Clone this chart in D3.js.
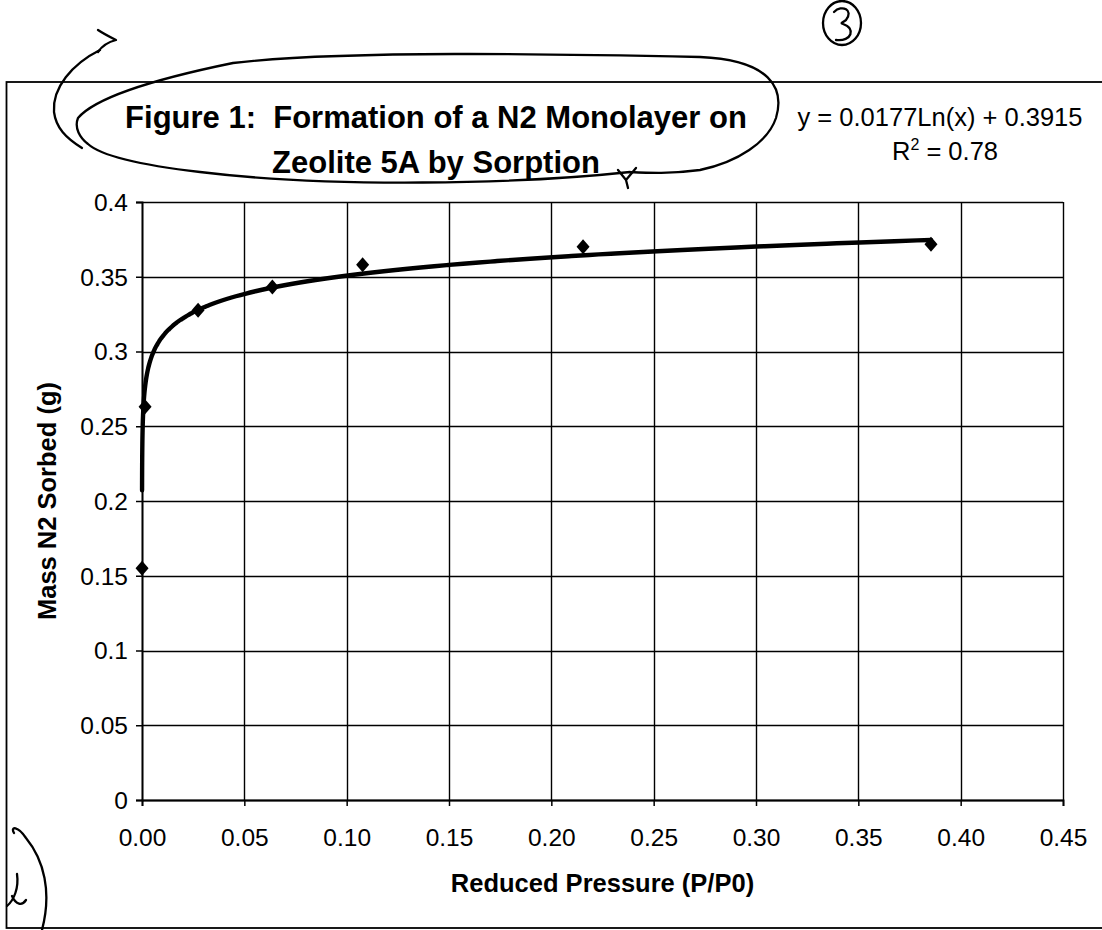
<!DOCTYPE html>
<html>
<head>
<meta charset="utf-8">
<script src="https://cdn.jsdelivr.net/npm/d3@7"></script>
<style>
  html, body { margin: 0; padding: 0; background: #fff; }
  svg { display: block; }
  text { font-family: "Liberation Sans", Arial, sans-serif; fill: #000; }
</style>
</head>
<body>
<svg id="chart" width="1102" height="930"></svg>
<script>
// Sorption measurements: reduced pressure P/P0 and mass of N2 sorbed (g)
const pressure = [0.00003, 0.0015, 0.0274, 0.0637, 0.1078, 0.2155, 0.3855];
const massSorbed = [0.155, 0.263, 0.3276, 0.3431, 0.358, 0.3700, 0.3718];

// Logarithmic trendline y = a*ln(x) + b
const trendCoef = [0.0177, 0.3915];
const trendLabel = "y = 0.0177Ln(x) + 0.3915";
const rSquaredLabel = "0.78";

const xTickValues = [0, 0.05, 0.10, 0.15, 0.20, 0.25, 0.30, 0.35, 0.40, 0.45];
const xTickLabels = ["0.00", "0.05", "0.10", "0.15", "0.20", "0.25", "0.30", "0.35", "0.40", "0.45"];
const yTickValues = [0, 0.05, 0.1, 0.15, 0.2, 0.25, 0.3, 0.35, 0.4];
const yTickLabels = ["0", "0.05", "0.1", "0.15", "0.2", "0.25", "0.3", "0.35", "0.4"];

const titleLines = ["Figure 1:  Formation of a N2 Monolayer on", "Zeolite 5A by Sorption"];
const xAxisTitle = "Reduced Pressure (P/P0)";
const yAxisTitle = "Mass N2 Sorbed (g)";

const svg = d3.select("#chart");
const plot = { left: 142, right: 1063, top: 202, bottom: 800 };

const x = d3.scaleLinear().domain([0, 0.45]).range([plot.left, plot.right]);
const y = d3.scaleLinear().domain([0, 0.4]).range([plot.bottom, plot.top]);

// Outer chart frame
svg.append("rect")
  .attr("x", 6.5).attr("y", 82)
  .attr("width", 1110).attr("height", 846)
  .attr("fill", "none").attr("stroke", "#000").attr("stroke-width", 1.8);

// Gridlines
const grid = svg.append("g").attr("stroke", "#000").attr("stroke-width", 1.4);
grid.selectAll("line.h").data(yTickValues).join("line")
  .attr("class", "h")
  .attr("x1", plot.left).attr("x2", plot.right)
  .attr("y1", d => Math.round(y(d)) + 0.5).attr("y2", d => Math.round(y(d)) + 0.5);
grid.selectAll("line.v").data(xTickValues).join("line")
  .attr("class", "v")
  .attr("y1", plot.top).attr("y2", plot.bottom)
  .attr("x1", d => Math.round(x(d)) + 0.5).attr("x2", d => Math.round(x(d)) + 0.5);

// Axes
const xAxis = d3.axisBottom(x)
  .tickValues(xTickValues)
  .tickFormat((d, i) => xTickLabels[i])
  .tickSize(6).tickPadding(23);
const yAxis = d3.axisLeft(y)
  .tickValues(yTickValues)
  .tickFormat((d, i) => yTickLabels[i])
  .tickSize(6).tickPadding(8);

const gx = svg.append("g").attr("transform", `translate(0,${plot.bottom})`).call(xAxis);
const gy = svg.append("g").attr("transform", `translate(${plot.left},0)`).call(yAxis);
[gx, gy].forEach(g => {
  g.select(".domain").attr("stroke", "#000").attr("stroke-width", 1.8);
  g.selectAll(".tick line").attr("stroke", "#000").attr("stroke-width", 1.5);
  g.selectAll(".tick text")
    .style("font-family", "'Liberation Sans', Arial, sans-serif")
    .attr("font-size", 24.5).attr("fill", "#000");
});
gy.selectAll(".tick text").attr("dy", "0.34em");

// Trendline
const xMin = d3.min(pressure), xMax = d3.max(pressure);
const trendX = d3.range(0, 201).map(i => Math.exp(Math.log(xMin) + (Math.log(xMax) - Math.log(xMin)) * i / 200));
const trend = trendX.map(v => [v, trendCoef[0] * Math.log(v) + trendCoef[1]]);
svg.append("path")
  .datum(trend)
  .attr("fill", "none").attr("stroke", "#000").attr("stroke-width", 4.4)
  .attr("stroke-linejoin", "round").attr("stroke-linecap", "round")
  .attr("d", d3.line().x(d => x(d[0])).y(d => y(d[1])).curve(d3.curveMonotoneX));

// Data markers (diamonds)
const points = pressure.map((p, i) => [p, massSorbed[i]]);
svg.append("g").selectAll("path").data(points).join("path")
  .attr("transform", d => `translate(${x(d[0])},${y(d[1])})`)
  .attr("d", "M0,-7.5L6.5,0L0,7.5L-6.5,0Z")
  .attr("fill", "#000");

// Titles
svg.append("g").selectAll("text").data(titleLines).join("text")
  .attr("x", 436).attr("y", (d, i) => 128 + i * 45)
  .attr("text-anchor", "middle")
  .style("white-space", "pre")
  .attr("font-size", 31).attr("font-weight", "bold")
  .text(d => d);

svg.append("text")
  .attr("x", (plot.left + plot.right) / 2).attr("y", 892)
  .attr("text-anchor", "middle")
  .attr("font-size", 25.5).attr("font-weight", "bold")
  .text(xAxisTitle);

svg.append("text")
  .attr("transform", `translate(56,${(plot.top + plot.bottom) / 2}) rotate(-90)`)
  .attr("text-anchor", "middle")
  .attr("font-size", 25.5).attr("font-weight", "bold")
  .text(yAxisTitle);

// Trendline equation and R²
svg.append("text")
  .attr("x", 940).attr("y", 126)
  .attr("text-anchor", "middle").attr("font-size", 25.5)
  .text(trendLabel);
const r2 = svg.append("text")
  .attr("x", 945).attr("y", 160)
  .attr("text-anchor", "middle").attr("font-size", 25.5);
r2.append("tspan").text("R");
r2.append("tspan").attr("font-size", 16).attr("dy", -10).text("2");
r2.append("tspan").attr("dy", 10).text(" = " + rSquaredLabel);

// Pen marks on the printed sheet
const ink = svg.append("g")
  .attr("fill", "none").attr("stroke", "#000")
  .attr("stroke-width", 2.3).attr("stroke-linecap", "round").attr("stroke-linejoin", "round");

// loop drawn around the figure title
ink.append("path").attr("d",
  "M630,172 C520,184 330,188 200,172 C140,165 100,155 88,144 C80,138 74,128 78,118 " +
  "C95,98 150,80 233,63 C340,50 560,54 700,57 C770,60 785,88 776,118 C768,142 738,162 700,170 C670,174 650,173 630,172");
ink.append("path").attr("d", "M618,170 L626,180 L636,168 M626,180 L628,188");
// curved arrow at the top left
ink.append("path").attr("d", "M98,30 C104,34 110,37 116,40 C108,42 102,46 98,52");
ink.append("path").attr("d", "M100,50 C72,64 52,88 54,112 C56,128 66,138 82,148");
// circled page number
ink.append("ellipse").attr("cx", 842).attr("cy", 23).attr("rx", 19).attr("ry", 22);
ink.append("path").attr("d", "M834,12 C842,4 854,10 846,20 C842,23 840,23 843,24 C856,28 852,42 836,40");
// scribble at the bottom left
ink.append("path").attr("d", "M14,833 C10,826 18,826 26,838 C44,860 52,892 42,930");
ink.append("path").attr("d", "M17,874 C19,888 14,900 7,906 M12,896 C16,905 22,906 26,900");
</script>
</body>
</html>
